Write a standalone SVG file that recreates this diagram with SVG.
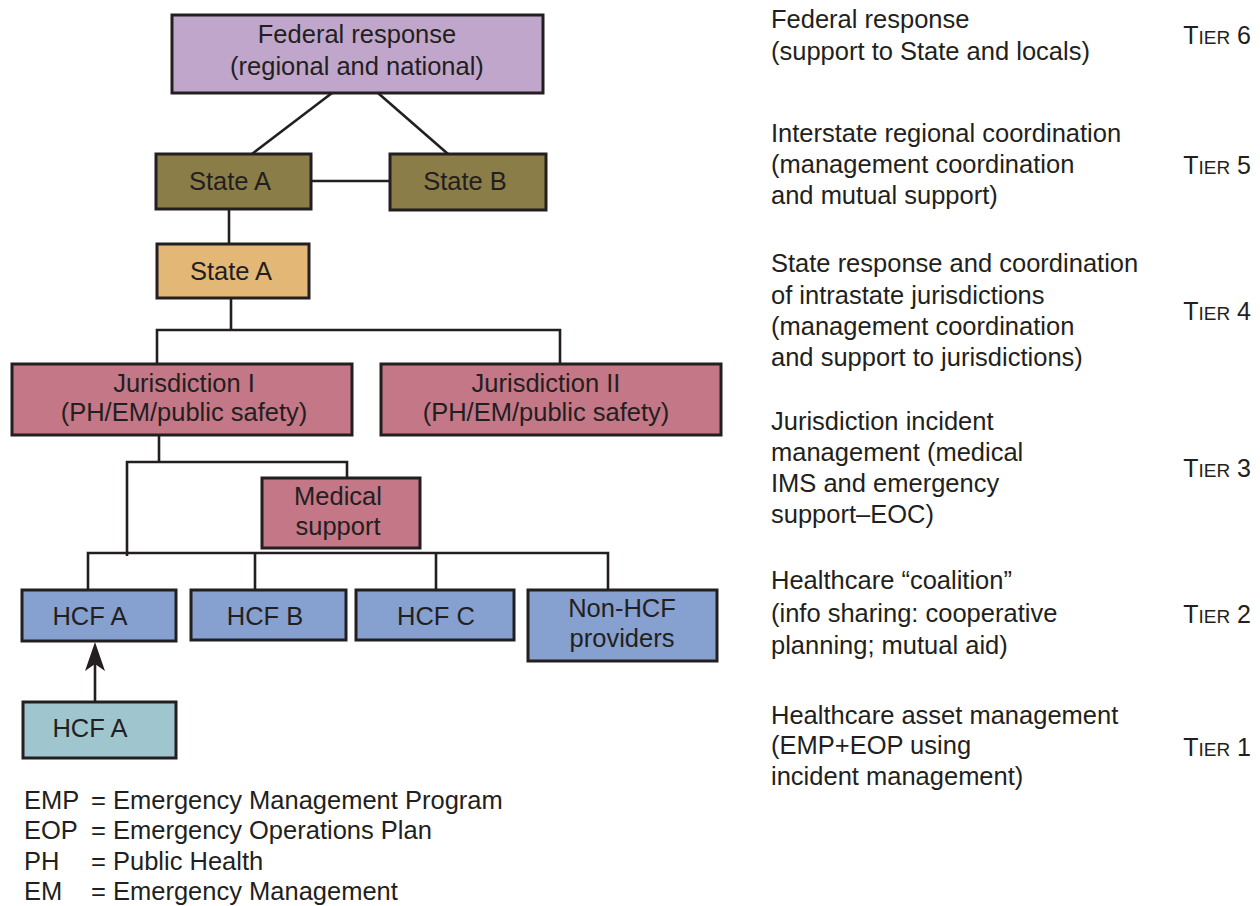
<svg xmlns="http://www.w3.org/2000/svg" width="1260" height="906" viewBox="0 0 1260 906">
<style>
.box{stroke:#231f20;stroke-width:3}
.t{font-family:"Liberation Sans",Arial,sans-serif;font-size:25.5px;fill:#231f20}
.c{text-anchor:middle}
.e{text-anchor:end;font-size:25px}
.ln{stroke:#231f20;stroke-width:2.6;fill:none}
.sc{font-size:19px}
</style>
<rect width="1260" height="906" fill="#ffffff"/>
<g id="connectors">
<line class="ln" x1="332" y1="93" x2="252" y2="154"/>
<line class="ln" x1="378" y1="93" x2="448" y2="154"/>
<line class="ln" x1="311" y1="181" x2="390" y2="181"/>
<line class="ln" x1="229" y1="209" x2="229" y2="244"/>
<polyline class="ln" points="157,364 157,330 560,330 560,364"/>
<line class="ln" x1="231" y1="298" x2="231" y2="330"/>
<line class="ln" x1="159" y1="435" x2="159" y2="462"/>
<polyline class="ln" points="127,556 127,462 347,462 347,478"/>
<polyline class="ln" points="88,590 88,553 608,553 608,590"/>
<line class="ln" x1="255" y1="553" x2="255" y2="590"/>
<line class="ln" x1="436" y1="553" x2="436" y2="590"/>
<line class="ln" x1="95" y1="702" x2="95" y2="660"/>
<path d="M95,642 L105,671 L95,664 L85,671 Z" fill="#231f20"/>
</g>
<g id="federal"><rect class="box" x="172" y="15" width="371" height="78" fill="#c0a6cb"/>
<text class="t c" x="357" y="43">Federal response</text><text class="t c" x="357" y="75">(regional and national)</text></g>
<g id="stateA-olive"><rect class="box" x="156" y="154" width="155" height="55" fill="#8b7d47"/>
<text class="t c" x="230" y="190">State A</text></g>
<g id="stateB"><rect class="box" x="390" y="154" width="156" height="56" fill="#8b7d47"/>
<text class="t c" x="465" y="190">State B</text></g>
<g id="stateA-orange"><rect class="box" x="157" y="244" width="152" height="54" fill="#e3b877"/>
<text class="t c" x="231" y="280">State A</text></g>
<g id="jurisdiction1"><rect class="box" x="12" y="364" width="340" height="71" fill="#c37787"/>
<text class="t c" x="184" y="392">Jurisdiction I</text><text class="t c" x="184" y="421">(PH/EM/public safety)</text></g>
<g id="jurisdiction2"><rect class="box" x="381" y="364" width="340" height="71" fill="#c37787"/>
<text class="t c" x="546" y="392">Jurisdiction II</text><text class="t c" x="546" y="421">(PH/EM/public safety)</text></g>
<g id="medical"><rect class="box" x="262" y="478" width="158" height="70" fill="#c37787"/>
<text class="t c" x="338" y="505">Medical</text><text class="t c" x="338" y="535">support</text></g>
<g id="hcfA"><rect class="box" x="22" y="590" width="154" height="51" fill="#86a0cf"/>
<text class="t c" x="90" y="625">HCF A</text></g>
<g id="hcfB"><rect class="box" x="191" y="590" width="155" height="50" fill="#86a0cf"/>
<text class="t c" x="265" y="625">HCF B</text></g>
<g id="hcfC"><rect class="box" x="356" y="590" width="158" height="50" fill="#86a0cf"/>
<text class="t c" x="436" y="625">HCF C</text></g>
<g id="nonhcf"><rect class="box" x="528" y="590" width="189" height="71" fill="#86a0cf"/>
<text class="t c" x="622" y="617">Non-HCF</text><text class="t c" x="622" y="647">providers</text></g>
<g id="hcfA-teal"><rect class="box" x="23" y="702" width="153" height="56" fill="#9fc6cf"/>
<text class="t c" x="90" y="737">HCF A</text></g>
<g id="tiers">
<text class="t" x="771" y="28">Federal response</text>
<text class="t" x="771" y="60">(support to State and locals)</text>
<text class="t e" x="1251" y="44">T<tspan class="sc">IER</tspan> 6</text>
<text class="t" x="771" y="142">Interstate regional coordination</text>
<text class="t" x="771" y="173">(management coordination</text>
<text class="t" x="771" y="204">and mutual support)</text>
<text class="t e" x="1251" y="174">T<tspan class="sc">IER</tspan> 5</text>
<text class="t" x="771" y="272">State response and coordination</text>
<text class="t" x="771" y="304">of intrastate jurisdictions</text>
<text class="t" x="771" y="335">(management coordination</text>
<text class="t" x="771" y="366">and support to jurisdictions)</text>
<text class="t e" x="1251" y="320">T<tspan class="sc">IER</tspan> 4</text>
<text class="t" x="771" y="430">Jurisdiction incident</text>
<text class="t" x="771" y="461">management (medical</text>
<text class="t" x="771" y="492">IMS and emergency</text>
<text class="t" x="771" y="523">support–EOC)</text>
<text class="t e" x="1251" y="477">T<tspan class="sc">IER</tspan> 3</text>
<text class="t" x="771" y="589">Healthcare “coalition”</text>
<text class="t" x="771" y="622">(info sharing: cooperative</text>
<text class="t" x="771" y="654">planning; mutual aid)</text>
<text class="t e" x="1251" y="623">T<tspan class="sc">IER</tspan> 2</text>
<text class="t" x="771" y="724">Healthcare asset management</text>
<text class="t" x="771" y="754">(EMP+EOP using</text>
<text class="t" x="771" y="785">incident management)</text>
<text class="t e" x="1251" y="756">T<tspan class="sc">IER</tspan> 1</text>
</g>
<g id="legend">
<text class="t" x="24" y="809">EMP</text><text class="t" x="91" y="809">= Emergency Management Program</text>
<text class="t" x="24" y="839">EOP</text><text class="t" x="91" y="839">= Emergency Operations Plan</text>
<text class="t" x="24" y="870">PH</text><text class="t" x="91" y="870">= Public Health</text>
<text class="t" x="24" y="900">EM</text><text class="t" x="91" y="900">= Emergency Management</text>
</g>
</svg>
